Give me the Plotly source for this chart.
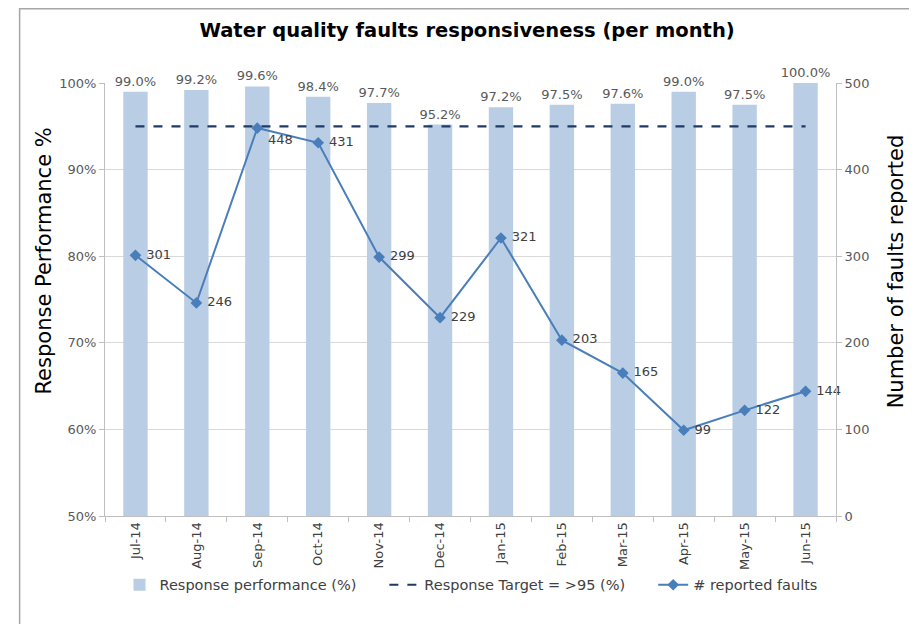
import plotly.graph_objects as go

months = ["Jul-14", "Aug-14", "Sep-14", "Oct-14", "Nov-14", "Dec-14",
          "Jan-15", "Feb-15", "Mar-15", "Apr-15", "May-15", "Jun-15"]
response_pct = [99.0, 99.2, 99.6, 98.4, 97.7, 95.2, 97.2, 97.5, 97.6, 99.0, 97.5, 100.0]
target_pct = [95] * 12
faults = [301, 246, 448, 431, 299, 229, 321, 203, 165, 99, 122, 144]
fault_label_pos = ["middle right", "middle right", "bottom right", "middle right",
                   "middle right", "middle right", "middle right", "middle right",
                   "middle right", "middle right", "middle right", "middle right"]

FONT = "DejaVu Sans"
GRAY = "#595959"
DARK = "#404040"
PAD = "\u00a0" * 5

fig = go.Figure()
fig.add_trace(go.Bar(
    x=months, y=response_pct, name="Response performance (%)" + PAD,
    marker=dict(color="#B9CDE5", line=dict(width=0)),
    texttemplate="%{y:.1f}%", textposition="outside", constraintext="none",
    textfont=dict(family=FONT, size=13, color=GRAY),
    cliponaxis=False, yaxis="y",
))
fig.add_trace(go.Scatter(
    x=months, y=target_pct, name="Response Target = >95 (%)" + PAD,
    mode="lines", line=dict(color="#1F3A64", width=2.2, dash="dash"),
    yaxis="y",
))
fig.add_trace(go.Scatter(
    x=months, y=faults, name="# reported faults",
    mode="lines+markers+text",
    line=dict(color="#4A7EBB", width=2),
    marker=dict(symbol="diamond", size=9, color="#4A7EBB"),
    text=["\u00a0" + str(v) for v in faults], textposition=fault_label_pos,
    textfont=dict(family=FONT, size=13, color=DARK),
    cliponaxis=False, yaxis="y2",
))

fig.update_layout(
    width=909, height=616,
    margin=dict(l=96.5, r=80.5, t=75, b=108, autoexpand=False),
    paper_bgcolor="white", plot_bgcolor="white",
    font=dict(family=FONT, color=DARK, size=13),
    title=dict(text="<b>Water quality faults responsiveness (per month)</b>",
               x=0.505, xanchor="center", y=1 - 22 / 616, yanchor="middle",
               font=dict(family=FONT, size=19.5, color="#000000")),
    bargap=0.6,
    showlegend=True,
    legend=dict(orientation="h", x=0.5007, xanchor="center", y=-0.159, yanchor="middle",
                font=dict(family=FONT, size=14.5, color=DARK), traceorder="normal",
                bgcolor="rgba(0,0,0,0)"),
    xaxis=dict(
        range=[-0.5, 11.5],
        tickangle=-90, showgrid=False, showline=True, linecolor="#BFBFBF",
        ticks="outside", tickson="boundaries", ticklen=5, tickcolor="#BFBFBF",
        tickfont=dict(family=FONT, size=13, color=DARK),
        automargin=False,
    ),
    yaxis=dict(
        range=[50, 100], dtick=10, ticksuffix="%",
        showgrid=True, gridcolor="#D9D9D9", showline=True, linecolor="#BFBFBF",
        ticks="outside", ticklen=5, tickcolor="#BFBFBF",
        tickfont=dict(family=FONT, size=13, color=GRAY),
        zeroline=False, automargin=False,
    ),
    yaxis2=dict(
        range=[0, 500], dtick=100, overlaying="y", side="right",
        showgrid=False, showline=True, linecolor="#BFBFBF",
        ticks="outside", ticklen=5, tickcolor="#BFBFBF",
        tickfont=dict(family=FONT, size=13, color=GRAY),
        zeroline=False, automargin=False,
    ),
    annotations=[
        dict(text="Response Performance %", xref="paper", yref="paper",
             x=-0.084, y=0.589, textangle=-90, showarrow=False,
             xanchor="center", yanchor="middle",
             font=dict(family=FONT, size=21, color="#000000")),
        dict(text="Number of faults reported", xref="paper", yref="paper",
             x=1.0813, y=0.566, textangle=-90, showarrow=False,
             xanchor="center", yanchor="middle",
             font=dict(family=FONT, size=21, color="#000000")),
    ],
    shapes=[dict(type="rect", xref="paper", yref="paper",
                 x0=-0.1168, x1=1.1079, y0=-0.29, y1=1.1715,
                 line=dict(color="#A6A6A6", width=1.5), fillcolor="rgba(0,0,0,0)",
                 layer="below")],
)

fig.write_html("out.html")
